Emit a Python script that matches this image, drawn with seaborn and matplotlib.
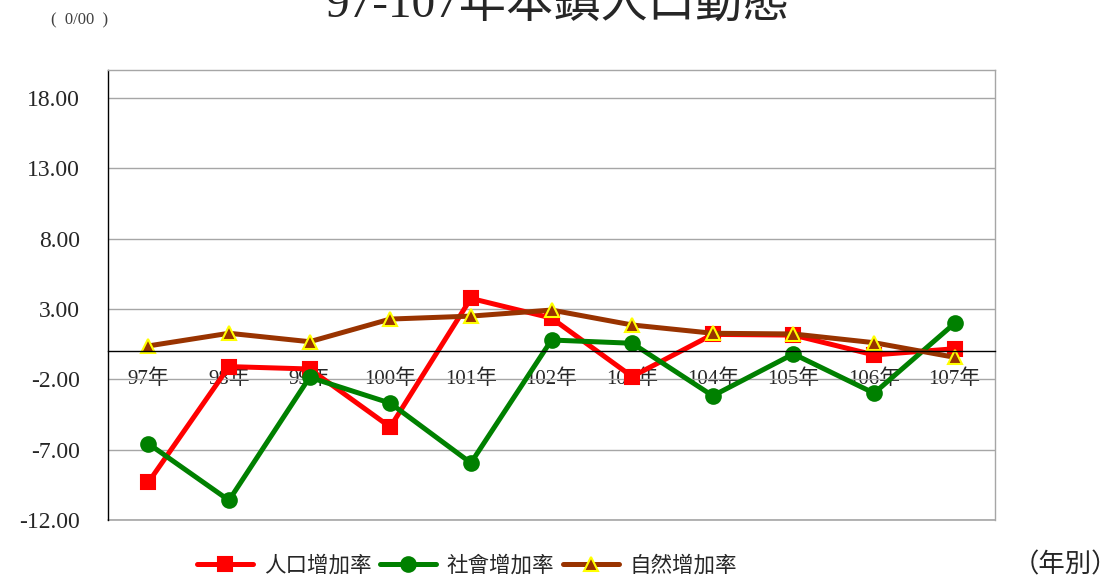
import numpy as np
import pandas as pd
import seaborn as sns
import matplotlib.pyplot as plt

years = ['97年', '98年', '99年', '100年', '101年', '102年',
         '103年', '104年', '105年', '106年', '107年']
pop_rate = [-9.32, -1.09, -1.26, -5.39, 3.76, 2.36, -1.80, 1.20, 1.15, -0.26, 0.18]
social_rate = [-6.57, -10.60, -1.85, -3.69, -7.94, 0.80, 0.57, -3.17, -0.19, -2.98, 1.99]
natural_rate = [0.38, 1.28, 0.68, 2.29, 2.50, 2.93, 1.87, 1.28, 1.23, 0.61, -0.43]
yticks = [18, 13, 8, 3, -2, -7, -12]

series = [
    ('人口增加率', pop_rate, '#ff0000', 's', '#ff0000', 10.5),
    ('社會增加率', social_rate, '#008000', 'o', '#008000', 10.5),
    ('自然增加率', natural_rate, '#993300', '^', '#ffff00', 10.5),
]


def main():
    sns.set_style('white')
    plt.rcParams['font.family'] = ['Liberation Serif', 'Noto Sans CJK TC']

    fig = plt.figure(figsize=(11.16, 5.8), dpi=100)
    ax = fig.add_axes([0.0968, 0.1034, 0.7948, 0.7759])

    pos = np.arange(len(years))
    for name, vals, color, mk, edge, ms in series:
        df = pd.DataFrame({'x': pos, 'y': vals})
        sns.lineplot(data=df, x='x', y='y', ax=ax, color=color, lw=3.6,
                     marker=mk, markersize=ms, markerfacecolor=color,
                     markeredgecolor=edge, markeredgewidth=1.5,
                     label=name, sort=False)

    ax.set_xlim(-0.5, len(years) - 0.5)
    ax.set_ylim(-12, 20)
    ax.set_yticks(yticks)
    ax.set_yticklabels([f'{v:.2f}' for v in yticks])
    ax.tick_params(axis='y', length=0, pad=20, labelsize=17)
    ax.yaxis.grid(True, color='#a6a6a6', lw=1)
    ax.axhline(-12, color='#a6a6a6', lw=1.2, clip_on=False, zorder=0)
    ax.set_xlabel('')
    ax.set_ylabel('')

    ax.set_xticks(pos)
    ax.set_xticks(pos[:-1] + 0.5, minor=True)
    ax.set_xticklabels(years)
    ax.tick_params(axis='x', which='major', length=0, pad=13, labelsize=15)
    ax.tick_params(axis='x', which='minor', direction='in', length=5,
                   color='#a6a6a6', width=1)

    ax.spines['bottom'].set_position(('data', 0))
    ax.spines['bottom'].set_color('black')
    ax.spines['bottom'].set_linewidth(1)
    ax.spines['left'].set_color('black')
    ax.spines['left'].set_linewidth(1)
    for s in ['top', 'right']:
        ax.spines[s].set_color('#a6a6a6')
        ax.spines[s].set_linewidth(1)

    ax.legend(loc='center', bbox_to_anchor=(467 / 1116, 1 - 566 / 580),
              bbox_transform=fig.transFigure, ncol=3, frameon=False,
              fontsize=15.5, handlelength=2.6, columnspacing=0.4,
              handletextpad=0.5)

    fig.text(0.5, 1 - 18 / 580, '97-107年本鎮人口動態', ha='center',
             va='baseline', fontsize=34)
    fig.text(80 / 1116, 1 - 20 / 580, '(  0/00  )', ha='center', va='center',
             fontsize=12, color='#404040')
    fig.text(1065 / 1116, 1 - 565 / 580, '（年別）', ha='center',
             va='center', fontsize=19)

    fig.savefig('out.png', dpi=100)


if __name__ == '__main__':
    main()
